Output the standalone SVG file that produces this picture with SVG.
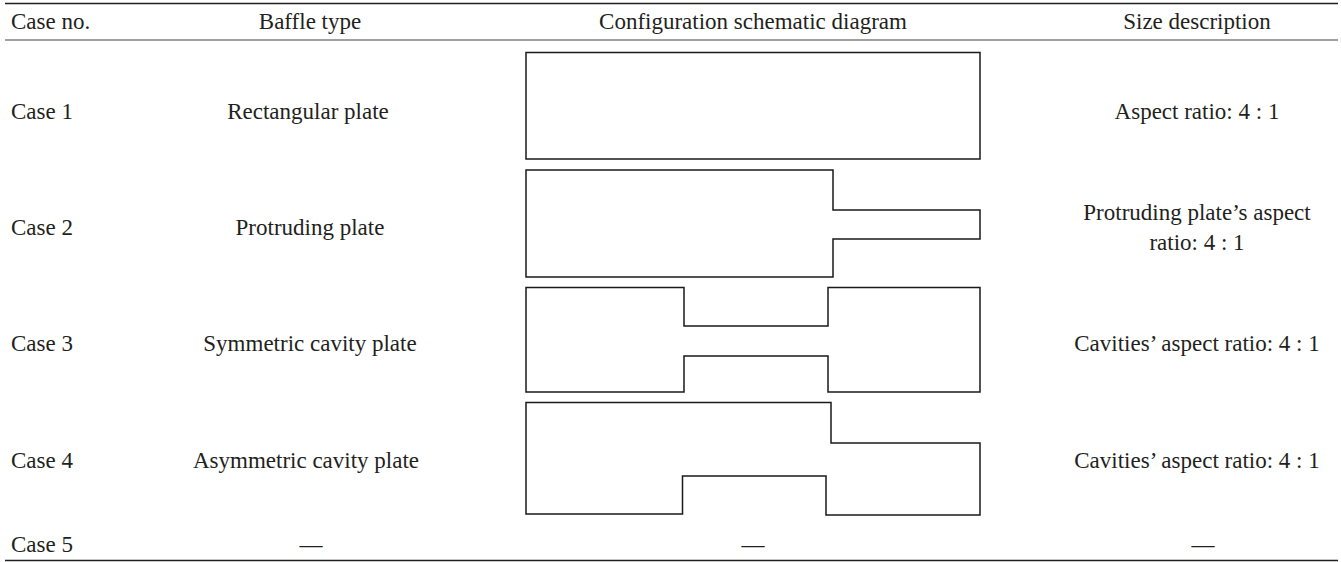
<svg xmlns="http://www.w3.org/2000/svg" width="1341" height="562" viewBox="0 0 1341 562">
<style>
text{font-family:"Liberation Serif","Times New Roman",serif;font-size:23px;fill:#231f20}
.m{text-anchor:middle}
.rule{stroke:#231f20;stroke-width:1.3}
.hdr{stroke:#808080;stroke-width:1.6}
.shape{fill:#fff;stroke:#1a1a1a;stroke-width:1.5}
</style>
<rect width="1341" height="562" fill="#fff"/>
<g id="rules">
<line class="rule" x1="5" y1="3.5" x2="1338" y2="3.5"/>
<line class="hdr" x1="5" y1="40" x2="1338" y2="40"/>
<line class="rule" x1="5" y1="560.5" x2="1338" y2="560.5"/>
</g>
<g id="header">
<text x="11" y="29">Case no.</text>
<text class="m" x="310" y="29">Baffle type</text>
<text class="m" x="753" y="29">Configuration schematic diagram</text>
<text class="m" x="1197" y="29">Size description</text>
</g>
<g id="case1">
<text x="11" y="119">Case 1</text>
<text class="m" x="308" y="119">Rectangular plate</text>
<rect class="shape" x="526" y="52.5" width="454" height="106.5"/>
<text class="m" x="1197" y="119">Aspect ratio: 4 : 1</text>
</g>
<g id="case2">
<text x="11" y="235">Case 2</text>
<text class="m" x="310" y="235">Protruding plate</text>
<path class="shape" d="M526,170 H833 V210 H980 V239 H833 V277 H526 Z"/>
<text class="m" x="1197" y="220">Protruding plate’s aspect</text>
<text class="m" x="1197" y="250">ratio: 4 : 1</text>
</g>
<g id="case3">
<text x="11" y="351">Case 3</text>
<text class="m" x="310" y="351">Symmetric cavity plate</text>
<path class="shape" d="M526,287.5 H684 V326 H828 V287.5 H980 V392 H828 V356 H684 V392 H526 Z"/>
<text class="m" x="1197" y="351">Cavities’ aspect ratio: 4 : 1</text>
</g>
<g id="case4">
<text x="11" y="468">Case 4</text>
<text class="m" x="306" y="468">Asymmetric cavity plate</text>
<path class="shape" d="M526,402.5 H831 V443 H980 V515 H826 V476 H682.5 V514 H526 Z"/>
<text class="m" x="1197" y="468">Cavities’ aspect ratio: 4 : 1</text>
</g>
<g id="case5">
<text x="11" y="552">Case 5</text>
<text class="m" x="311" y="552">—</text>
<text class="m" x="753" y="552">—</text>
<text class="m" x="1203" y="552">—</text>
</g>
</svg>
